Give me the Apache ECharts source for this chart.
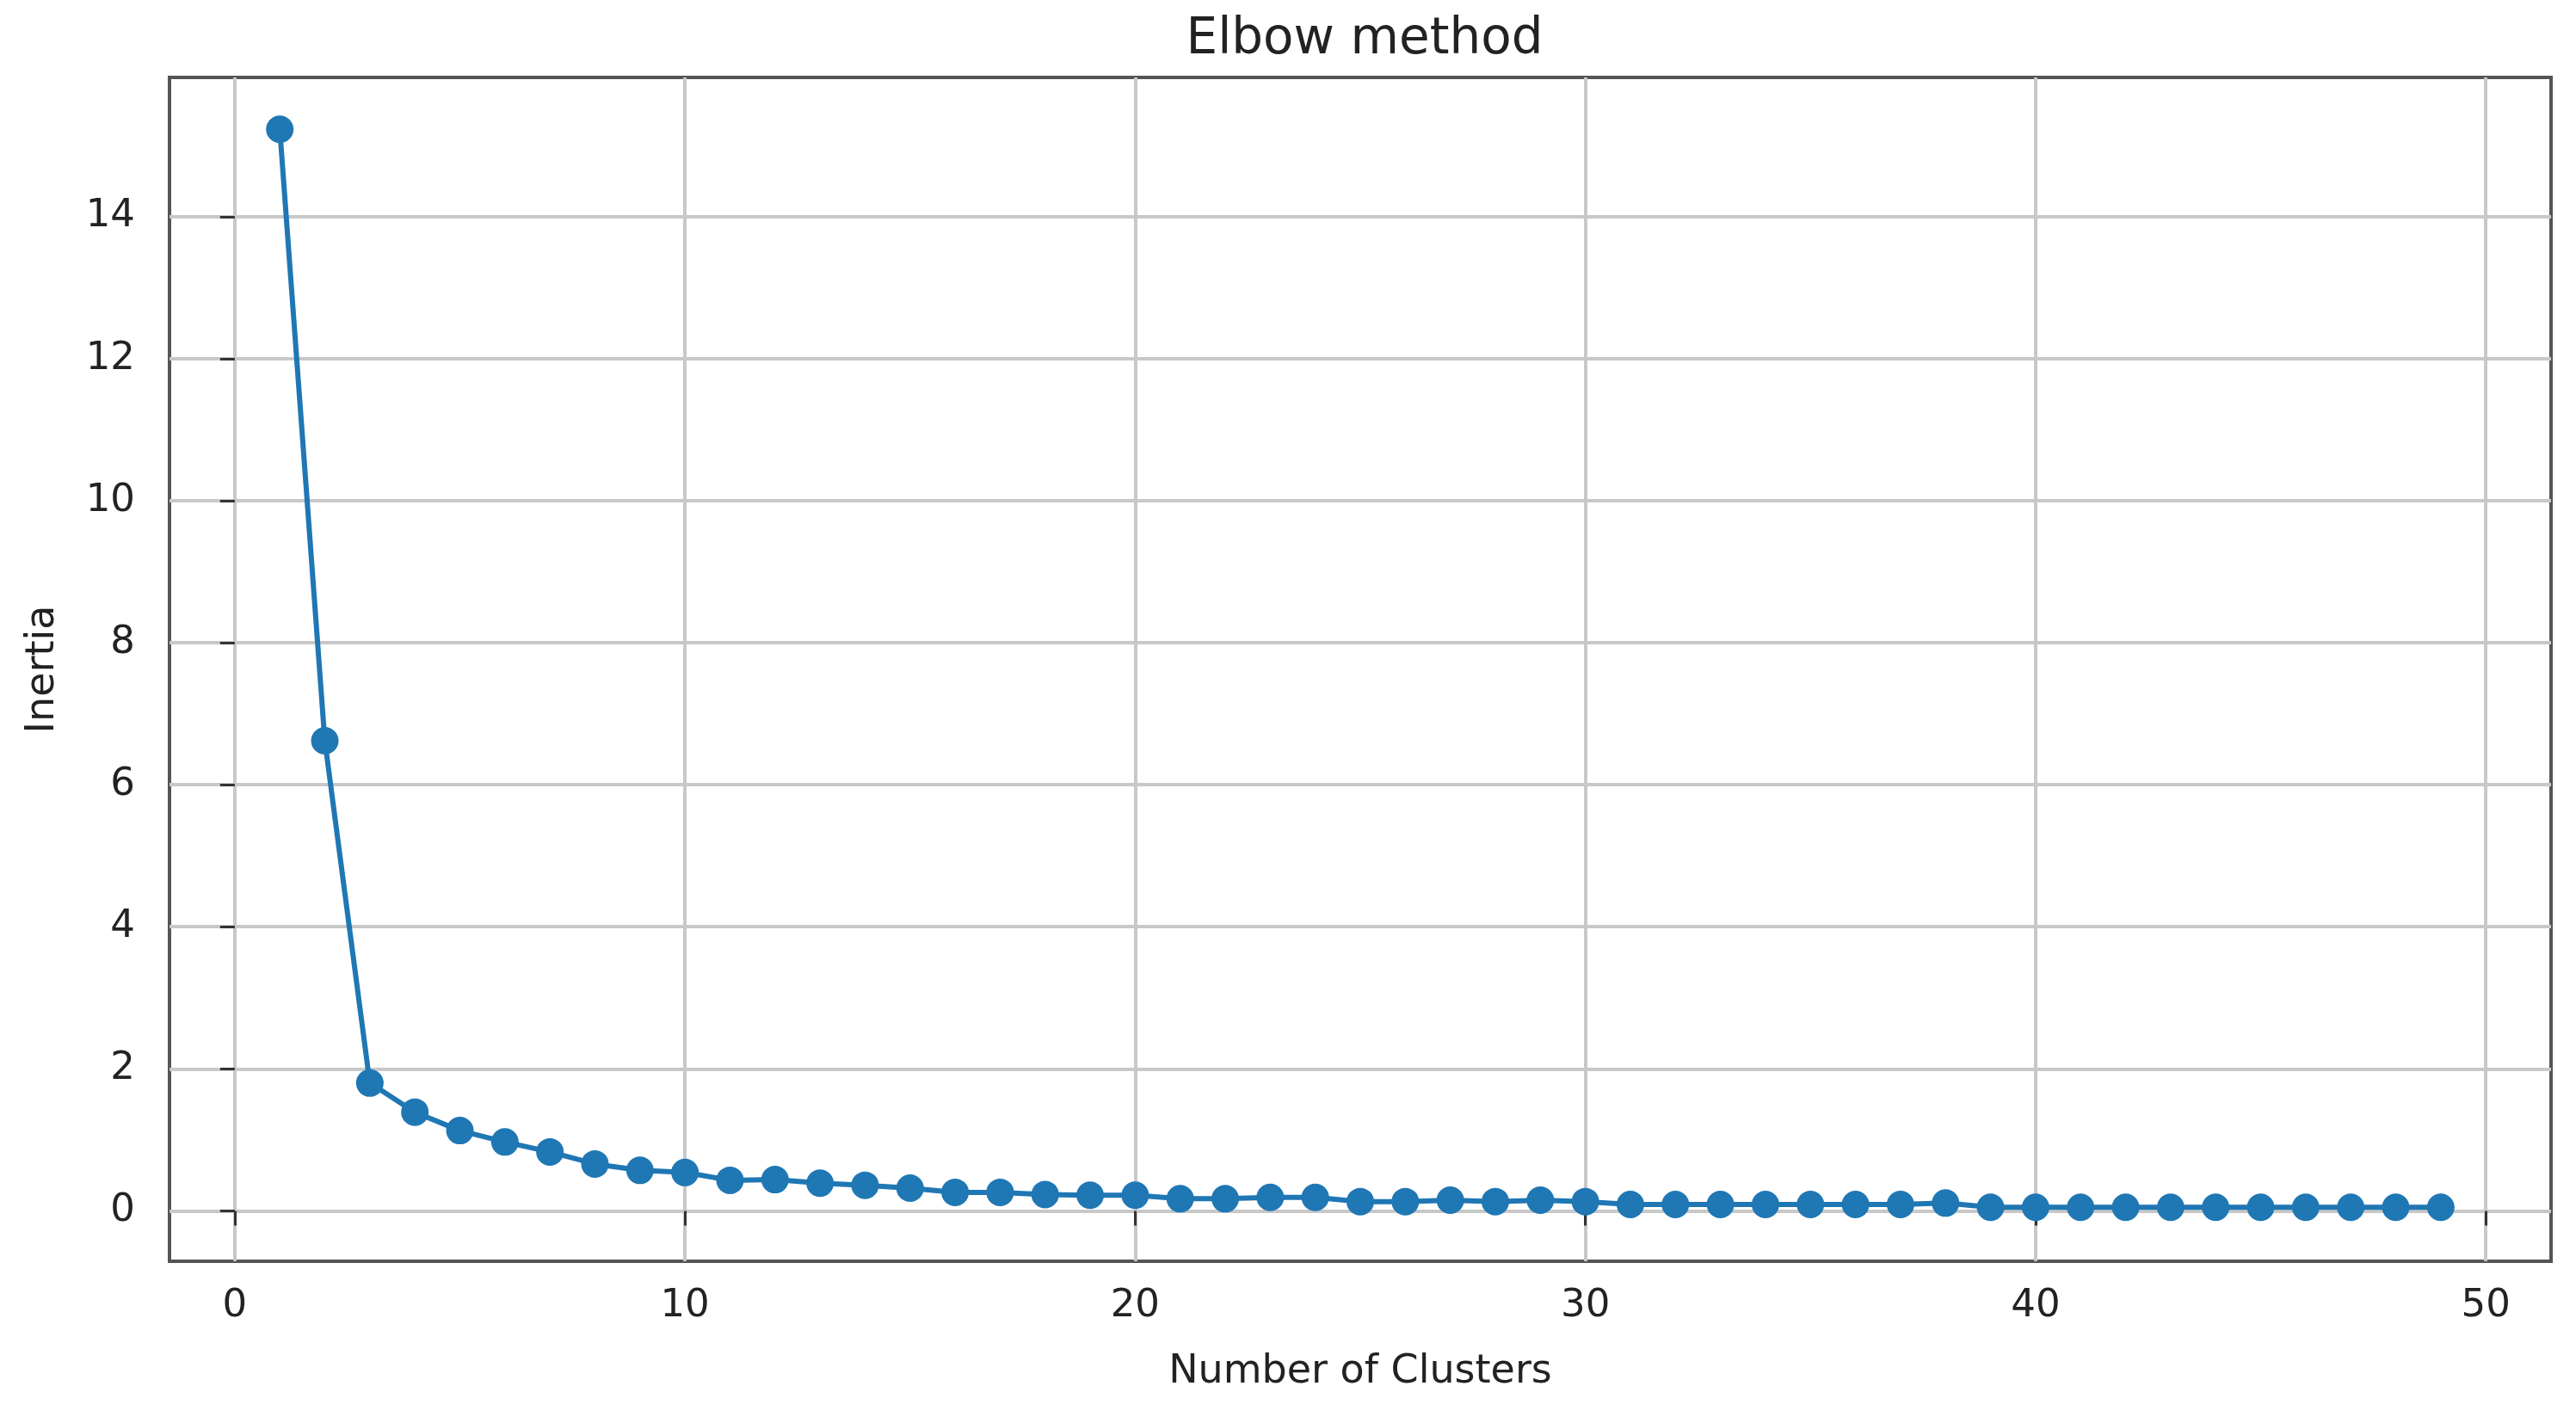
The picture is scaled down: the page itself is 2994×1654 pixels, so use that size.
<!DOCTYPE html>
<html>
<head>
<meta charset="utf-8">
<title>Elbow method</title>
<script src="https://cdn.jsdelivr.net/npm/echarts@6/dist/echarts.min.js"></script>
<style>
  html, body { margin: 0; padding: 0; background: #fff; }
  #elbow { width: 2994px; height: 1654px; }
</style>
</head>
<body>
<div id="elbow"></div>
<script>
  // number of clusters k = 1..49
  const clusters = [];
  for (let k = 1; k <= 49; k++) clusters.push(k);
  // inertia
  const inertia = [
    15.23, 6.62, 1.80, 1.39, 1.13, 0.97, 0.83, 0.66, 0.57, 0.54,
    0.43, 0.44, 0.39, 0.36, 0.32, 0.26, 0.26, 0.23, 0.22, 0.22,
    0.17, 0.17, 0.19, 0.19, 0.13, 0.13, 0.15, 0.13, 0.15, 0.13,
    0.09, 0.09, 0.09, 0.09, 0.09, 0.09, 0.09, 0.11, 0.05, 0.05,
    0.05, 0.05, 0.05, 0.05, 0.05, 0.05, 0.05, 0.05, 0.05
  ];
  const xTicks = [0, 10, 20, 30, 40, 50];
  const yTicks = [0, 2, 4, 6, 8, 10, 12, 14];

  const font = 'DejaVu Sans';
  const textColor = '#222';

  let chart = echarts.init(document.getElementById('elbow'));
  chart.setOption({
    animation: false,
    title: {
      text: 'Elbow method',
      left: 1581,
      top: 13,
      textAlign: 'center',
      textStyle: { fontFamily: font, fontSize: 58, fontWeight: 'normal', color: textColor }
    },
    grid: {
      left: 197,
      right: 2994 - 2965,
      top: 90,
      bottom: 1654 - 1466,
      show: true,
      borderColor: '#555',
      borderWidth: 4,
      backgroundColor: 'transparent'
    },
    xAxis: {
      type: 'value',
      min: -1.45,
      max: 51.45,
      name: 'Number of Clusters',
      nameLocation: 'middle',
      nameGap: 106,
      nameTextStyle: { fontFamily: font, fontSize: 46, color: textColor },
      axisLine: { show: false },
      axisTick: { show: true, customValues: xTicks, length: 17, lineStyle: { color: '#333', width: 3 } },
      axisLabel: { customValues: xTicks, margin: 30, fontFamily: font, fontSize: 45, color: textColor },
      splitLine: { show: true, lineStyle: { color: '#c8c8c8', width: 4 } }
    },
    yAxis: {
      type: 'value',
      min: -0.71,
      max: 15.96,
      name: 'Inertia',
      nameLocation: 'middle',
      nameGap: 124,
      nameTextStyle: { fontFamily: font, fontSize: 46, color: textColor },
      axisLine: { show: false },
      axisTick: { show: true, customValues: yTicks, length: 17, lineStyle: { color: '#333', width: 3 } },
      axisLabel: { customValues: yTicks, margin: 40, fontFamily: font, fontSize: 45, color: textColor },
      splitLine: { show: true, lineStyle: { color: '#c8c8c8', width: 4 } }
    },
    series: [
      {
        type: 'line',
        data: clusters.map((k, i) => [k, inertia[i]]),
        symbol: 'circle',
        symbolSize: 32,
        showAllSymbol: true,
        lineStyle: { color: '#1f77b4', width: 6 },
        itemStyle: { color: '#1f77b4' }
      }
    ]
  });
</script>
</body>
</html>
